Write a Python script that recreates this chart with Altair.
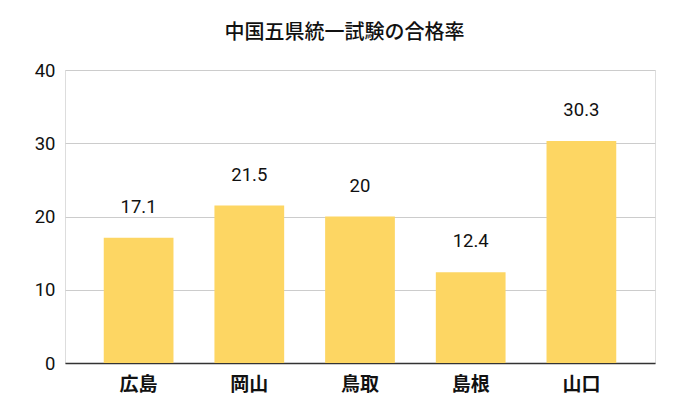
import altair as alt
import pandas as pd

categories = ["広島", "岡山", "鳥取", "島根", "山口"]
values = [17.1, 21.5, 20, 12.4, 30.3]
labels = ["17.1", "21.5", "20", "12.4", "30.3"]

df = pd.DataFrame({"pref": categories, "rate": values, "label": labels})

font = "Roboto, 'Noto Sans CJK JP', sans-serif"

x = alt.X("pref:N", sort=categories, title=None,
          scale=alt.Scale(paddingInner=0.37, paddingOuter=0.35),
          axis=alt.Axis(labelAngle=0, labelFontSize=19, labelFontWeight="bold",
                        labelColor="#111111", labelFont=font, ticks=False,
                        domainColor="#333333", domainWidth=1.3, labelPadding=12))
y = alt.Y("rate:Q", title=None,
          scale=alt.Scale(domain=[0, 40]),
          axis=alt.Axis(values=[0, 10, 20, 30, 40], labelFontSize=18.5, labelColor="#111111",
                        labelFont=font, ticks=False, domain=False, gridColor="#cccccc",
                        labelPadding=10))

bars = alt.Chart(df).mark_bar(color="#FDD663").encode(x=x, y=y)
text = alt.Chart(df).mark_text(baseline="middle", dy=-31, fontSize=18.5, color="#111111",
                               font=font).encode(x=x, y=y, text="label:N")

chart = (bars + text).properties(
    width=590, height=293,
    title=alt.TitleParams("中国五県統一試験の合格率", fontSize=20, fontWeight=500,
                          color="#111111", font=font, anchor="middle", frame="bounds",
                          offset=18),
    autosize=alt.AutoSizeParams(type="none"),
    padding={"left": 65, "top": 70, "right": 21, "bottom": 55},
).configure_view(stroke=None).configure(background="white")

chart.save("out.html", embed_options={"renderer": "svg", "actions": False})
